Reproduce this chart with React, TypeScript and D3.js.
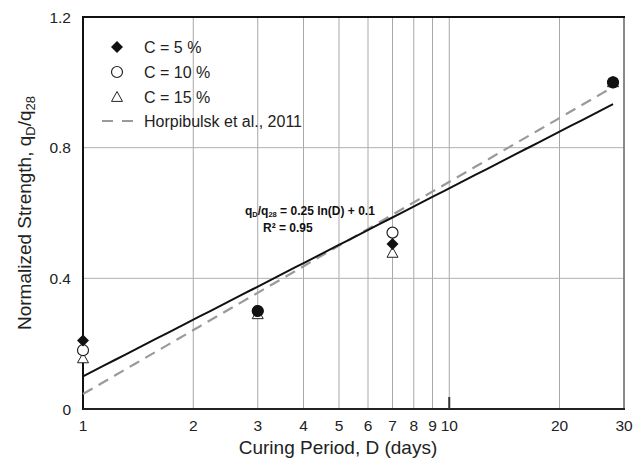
import React from "react";
import * as d3 from "d3";

const days = [1, 3, 7, 28];
const c5 = [0.21, 0.3, 0.505, 1.0];
const c10 = [0.18, 0.3, 0.54, 1.0];
const c15 = [0.155, 0.29, 0.478, 1.0];
const xTicks = [1, 2, 3, 4, 5, 6, 7, 8, 9, 10, 20, 30];
const yTicks = [0, 0.4, 0.8, 1.2];
const fitCoef = { a: 0.25, b: 0.1 };
const horpCoef = { a: 0.282, b: 0.046 };
const lineRange = [1, 28];

const W = 633, H = 460;
const L = 83, R = 624, T = 17, B = 409;
const FONT = "Liberation Sans, Arial, Helvetica, sans-serif";

const diamondPath = (s: number) => `M0,${-s}L${s},0L0,${s}L${-s},0Z`;
const triPath = (s: number) => `M0,${-s}L${s},${s * 0.8}L${-s},${s * 0.8}Z`;

export default function App() {
  const x = d3.scaleLog().domain([1, 30]).range([L, R]);
  const y = d3.scaleLinear().domain([0, 1.2]).range([B, T]);
  const ln = (c: { a: number; b: number }) => {
    const pts = d3.range(0, 51).map((i) => {
      const d = Math.exp(Math.log(lineRange[0]) + (i / 50) * (Math.log(lineRange[1]) - Math.log(lineRange[0])));
      return [d, c.a * Math.log(d) + c.b] as [number, number];
    });
    return d3.line<[number, number]>().x((p) => x(p[0])).y((p) => y(p[1]))(pts) || "";
  };
  const diamond = diamondPath(6);
  const tri = triPath(5.5);
  return (
    <svg width={W} height={H} style={{ position: "absolute", left: 0, top: 0, background: "#fff" }} fontFamily={FONT}>
      <rect x={0} y={0} width={W} height={H} fill="#fff" />
      {xTicks.map((t) => (
        <line key={"gx" + t} x1={x(t)} x2={x(t)} y1={T} y2={B} stroke="#a8a8a8" strokeWidth={1} />
      ))}
      {yTicks.map((t) => (
        <line key={"gy" + t} x1={L} x2={R} y1={y(t)} y2={y(t)} stroke="#b0b0b0" strokeWidth={1} />
      ))}
      {/* frame */}
      <line x1={R} x2={R} y1={T} y2={B} stroke="#777" strokeWidth={1.6} />
      <line x1={L} x2={R + 1} y1={T} y2={T} stroke="#111" strokeWidth={2} />
      <line x1={L} x2={L} y1={T - 1} y2={B + 1} stroke="#111" strokeWidth={2} />
      <line x1={L} x2={R + 1} y1={B} y2={B} stroke="#222" strokeWidth={2} />
      <line x1={x(10)} x2={x(10)} y1={B} y2={B - 12} stroke="#333" strokeWidth={2} />
      {/* tick labels */}
      {xTicks.map((t) => (
        <text key={"tx" + t} x={x(t)} y={B + 22} fontSize={15.5} textAnchor="middle" fill="#222">{t}</text>
      ))}
      {yTicks.map((t) => (
        <text key={"ty" + t} x={L - 12} y={y(t) + 5.5} fontSize={15.5} textAnchor="end" fill="#222">{t === 0 ? "0" : t.toFixed(1)}</text>
      ))}
      {/* lines */}
      <path d={ln(horpCoef)} fill="none" stroke="#9a9a9a" strokeWidth={2.2} strokeDasharray="11,7" />
      <path d={ln(fitCoef)} fill="none" stroke="#111" strokeWidth={2} />
      {/* markers */}
      {days.map((d, i) => (
        <path key={"t" + i} d={tri} transform={`translate(${x(d)},${y(c15[i])})`} fill="#fff" stroke="#222" strokeWidth={1} />
      ))}
      {days.map((d, i) => (
        <circle key={"c" + i} cx={x(d)} cy={y(c10[i])} r={5.5} fill="#fff" stroke="#222" strokeWidth={1.2} />
      ))}
      {days.map((d, i) => (
        <path key={"d" + i} d={diamond} transform={`translate(${x(d)},${y(c5[i])})`} fill="#111" />
      ))}
      {/* overlapped points appear solid */}
      {[1, 3].map((k) => (
        <circle key={"s" + k} cx={x(days[k])} cy={y(c5[k])} r={5.8} fill="#111" />
      ))}
      {/* legend */}
      <path d={diamond} transform="translate(117,47)" fill="#111" />
      <text x={144} y={53} fontSize={16} fill="#222">C = 5 %</text>
      <circle cx={117} cy={72} r={5.5} fill="#fff" stroke="#222" strokeWidth={1.2} />
      <text x={144} y={78} fontSize={16} fill="#222">C = 10 %</text>
      <path d={tri} transform="translate(117,97)" fill="#fff" stroke="#222" strokeWidth={1} />
      <text x={144} y={103} fontSize={16} fill="#222">C = 15 %</text>
      <line x1={102} x2={134} y1={121} y2={121} stroke="#9a9a9a" strokeWidth={2.2} strokeDasharray="11,9" />
      <text x={144} y={127} fontSize={16} fill="#222">Horpibulsk et al., 2011</text>
      {/* annotation */}
      <text x={245} y={215} fontSize={12} fontWeight="bold" fill="#111">
        q<tspan fontSize={7.5} dy={2}>D</tspan><tspan dy={-2}>/q</tspan><tspan fontSize={7.5} dy={2}>28</tspan><tspan dy={-2}> = 0.25 ln(D) + 0.1</tspan>
      </text>
      <text x={263} y={232} fontSize={12} fontWeight="bold" fill="#111">R² = 0.95</text>
      {/* axis titles */}
      <text x={338} y={454} fontSize={19} textAnchor="middle" fill="#222">Curing Period, D (days)</text>
      <text transform={`translate(31,213) rotate(-90)`} fontSize={19} textAnchor="middle" fill="#222">
        Normalized Strength, q<tspan fontSize={13} dy={4}>D</tspan><tspan dy={-4}>/q</tspan><tspan fontSize={13} dy={4}>28</tspan>
      </text>
    </svg>
  );
}
